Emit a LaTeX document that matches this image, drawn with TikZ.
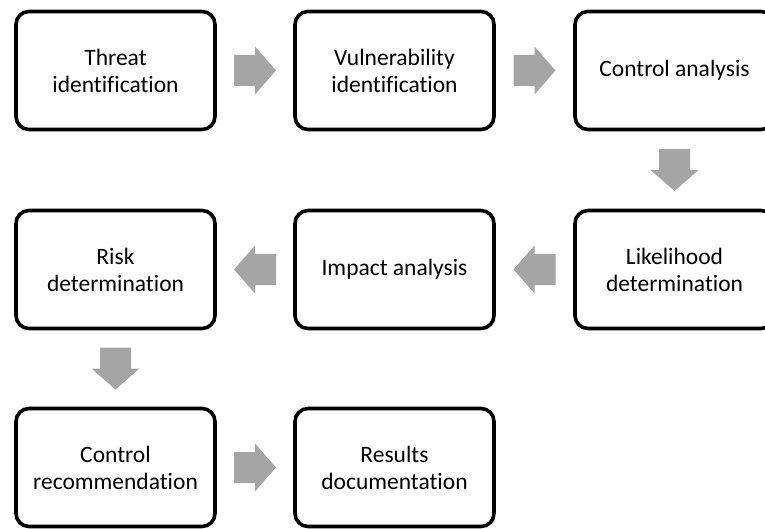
\documentclass[tikz,border=0pt]{standalone}
\usepackage{fontspec}
\setmainfont{Carlito}[Ligatures={NoCommon}]
\usetikzlibrary{calc}
\definecolor{arrowgray}{HTML}{A5A5A5}
\tikzset{
  stepbox/.style={draw=black, line width=3.6pt, rounded corners=13pt, fill=white,
    minimum width=199pt, minimum height=118pt, inner sep=0pt, align=center,
    font=\fontsize{23.5}{27}\selectfont},
  flowarrow/.pic={
    \fill[arrowgray] (-21,-15.5) -- (0,-15.5) -- (0,-24) -- (21,0) -- (0,24)
      -- (0,15.5) -- (-21,15.5) -- cycle;
  }
}
\begin{document}
\begin{tikzpicture}[x=1pt, y=-1pt]
\useasboundingbox (0,0) rectangle (765,529);
% boxes, laid out in three rows
\node[stepbox] (threat) at (115.5,70.5) {Threat\\identification};
\node[stepbox] (vuln)   at (394.5,70.5) {Vulnerability\\identification};
\node[stepbox] (ctrl)   at (674.5,70.5) {Control analysis};
\node[stepbox] (like)   at (674.5,269.5) {Likelihood\\determination};
\node[stepbox] (impact) at (394.5,269.5) {Impact analysis};
\node[stepbox] (risk)   at (115.5,269.5) {Risk\\determination};
\node[stepbox] (recom)  at (115.5,467.5) {Control\\recommendation};
\node[stepbox] (docs)   at (394.5,467.5) {Results\\documentation};
% block arrows between consecutive steps
\pic at ($(threat.east)!0.5!(vuln.west)$) {flowarrow};
\pic at ($(vuln.east)!0.5!(ctrl.west)$) {flowarrow};
\pic[rotate=-90] at ($(ctrl.south)!0.5!(like.north)$) {flowarrow};
\pic[rotate=180] at ($(like.west)!0.5!(impact.east)$) {flowarrow};
\pic[rotate=180] at ($(impact.west)!0.5!(risk.east)$) {flowarrow};
\pic[rotate=-90] at ($(risk.south)!0.5!(recom.north)$) {flowarrow};
\pic at ($(recom.east)!0.5!(docs.west)$) {flowarrow};
\end{tikzpicture}
\end{document}
